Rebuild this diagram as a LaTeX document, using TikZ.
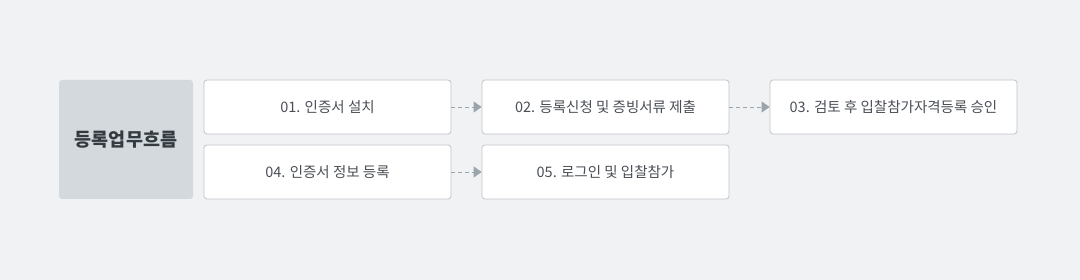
\documentclass[tikz,border=0pt]{standalone}
\usepackage{fontspec}
\newfontfamily\kr{Noto Sans CJK KR}
\usetikzlibrary{arrows.meta}
\definecolor{bg}{HTML}{F1F2F4}
\definecolor{titlebg}{HTML}{D3D9DD}
\definecolor{boxline}{HTML}{BFC4C9}
\definecolor{txt}{HTML}{4A4F55}
\definecolor{ttl}{HTML}{333A40}
\definecolor{arr}{HTML}{9AA5AE}
\tikzset{
  stepbox/.style={draw=boxline, line width=0.8pt, fill=white, rounded corners=3pt, minimum width=247pt, minimum height=54pt, inner sep=0pt, font=\kr\fontsize{14.5}{17}\selectfont, text=txt},
  titlebox/.style={fill=titlebg, rounded corners=3pt, minimum width=134pt, minimum height=119pt, inner sep=0pt, font=\kr\bfseries\fontsize{18.5}{21}\selectfont, text=ttl},
  flow/.style={draw=arr, line width=0.8pt, dash pattern=on 4pt off 3pt, -{Triangle[length=8pt,width=11pt,fill=arr]}}
}
\begin{document}
\begin{tikzpicture}[x=1pt,y=-1pt]
\fill[bg] (0,0) rectangle (1080,280);
\useasboundingbox (0,0) rectangle (1080,280);
\node[titlebox] (t) at (126,139.5) {등록업무흐름};
\node[stepbox] (s1) at (327.5,107) {01. 인증서 설치};
\node[stepbox] (s2) at (605.5,107) {02. 등록신청 및 증빙서류 제출};
\node[stepbox] (s3) at (893.5,107) {03. 검토 후 입찰참가자격등록 승인};
\node[stepbox] (s4) at (327.5,172) {04. 인증서 정보 등록};
\node[stepbox] (s5) at (605.5,172) {05. 로그인 및 입찰참가};
\draw[flow] (s1) -- (s2);
\draw[flow] (s2) -- (s3);
\draw[flow] (s4) -- (s5);
\end{tikzpicture}
\end{document}
